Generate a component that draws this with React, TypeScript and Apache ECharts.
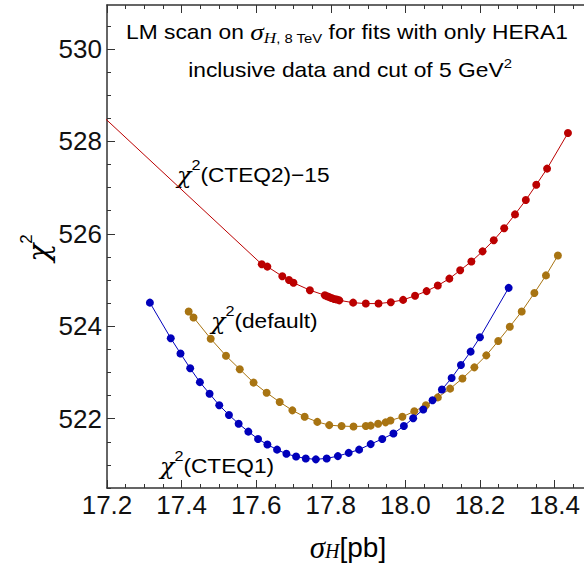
import React, { useEffect, useRef } from "react";
import * as echarts from "echarts";

// ---- data ----
const cteq1X = [17.315, 17.371, 17.397, 17.423, 17.449, 17.475, 17.501, 17.527, 17.553, 17.579, 17.605, 17.630, 17.656, 17.681, 17.707, 17.733, 17.760, 17.789, 17.819, 17.848, 17.876, 17.907, 17.938, 17.968, 17.996, 18.021, 18.048, 18.073, 18.098, 18.124, 18.149, 18.175, 18.200, 18.277];
const cteq1Y = [524.51, 523.74, 523.41, 523.09, 522.79, 522.54, 522.29, 522.08, 521.89, 521.72, 521.56, 521.44, 521.33, 521.24, 521.18, 521.14, 521.12, 521.14, 521.19, 521.26, 521.33, 521.45, 521.56, 521.68, 521.84, 522.01, 522.20, 522.40, 522.63, 522.88, 523.16, 523.45, 523.76, 524.83];

const defaultX = [17.419, 17.432, 17.478, 17.519, 17.556, 17.593, 17.628, 17.663, 17.697, 17.730, 17.764, 17.796, 17.829, 17.861, 17.894, 17.907, 17.927, 17.947, 17.960, 17.992, 18.024, 18.055, 18.087, 18.120, 18.153, 18.185, 18.217, 18.249, 18.280, 18.312, 18.346, 18.377, 18.409];
const defaultY = [524.32, 524.19, 523.73, 523.36, 523.07, 522.78, 522.56, 522.36, 522.18, 522.04, 521.93, 521.86, 521.84, 521.83, 521.84, 521.85, 521.89, 521.92, 521.96, 522.04, 522.16, 522.29, 522.46, 522.65, 522.87, 523.11, 523.37, 523.68, 523.99, 524.32, 524.72, 525.10, 525.53];

const cteq2X = [17.0, 17.615, 17.630, 17.670, 17.688, 17.700, 17.744, 17.784, 17.790, 17.796, 17.802, 17.809, 17.816, 17.823, 17.860, 17.894, 17.928, 17.961, 17.994, 18.026, 18.057, 18.087, 18.118, 18.147, 18.177, 18.207, 18.237, 18.265, 18.294, 18.323, 18.351, 18.380, 18.436];
const cteq2Y = [529.96, 525.34, 525.29, 525.08, 525.00, 524.94, 524.78, 524.67, 524.65, 524.63, 524.61, 524.59, 524.58, 524.56, 524.51, 524.49, 524.49, 524.52, 524.57, 524.66, 524.76, 524.88, 525.03, 525.21, 525.40, 525.62, 525.86, 526.12, 526.42, 526.73, 527.06, 527.41, 528.18];

const xMajorTicks = [17.2, 17.4, 17.6, 17.8, 18.0, 18.2, 18.4];
const xMinorTicks = [17.25, 17.3, 17.35, 17.45, 17.5, 17.55, 17.65, 17.7, 17.75, 17.85, 17.9, 17.95, 18.05, 18.1, 18.15, 18.25, 18.3, 18.35, 18.45];
const yMajorTicks = [522, 524, 526, 528, 530];
const yMinorTicks = [520.5, 521, 521.5, 522.5, 523, 523.5, 524.5, 525, 525.5, 526.5, 527, 527.5, 528.5, 529, 529.5, 530.5];

const X_MIN = 17.2;
const X_MAX = 18.479;
const Y_MIN = 520.5;
const Y_MAX = 530.95;

const RED = "#bb0000";
const GOLD = "#a87412";
const BLUE = "#0000bb";
const AXIS = "#333333";
const SANS = "Liberation Sans, Arial, sans-serif";
const SERIF = "Liberation Serif, Times New Roman, serif";
const GREEK = "DejaVu Serif, Liberation Serif, serif";

const zip = (xs: number[], ys: number[]) => xs.map((x, i) => [x, ys[i]]);

function xAxisDef(position: string, ticks: number[], len: number, labels: boolean, line: boolean) {
  return {
    type: "value",
    position,
    min: X_MIN,
    max: X_MAX,
    axisLine: { show: line, onZero: false, lineStyle: { color: AXIS, width: 1.5 } },
    axisTick: { show: true, inside: true, length: len, customValues: ticks, lineStyle: { color: AXIS, width: 1 } },
    axisLabel: labels
      ? { show: true, customValues: ticks, formatter: (v: number) => v.toFixed(1), fontSize: 26, fontFamily: SANS, color: "#111", margin: 4 }
      : { show: false },
    splitLine: { show: false },
  };
}

function yAxisDef(ticks: number[], len: number, labels: boolean, line: boolean) {
  return {
    type: "value",
    position: "left",
    min: Y_MIN,
    max: Y_MAX,
    axisLine: { show: line, onZero: false, lineStyle: { color: AXIS, width: 1.5 } },
    axisTick: { show: true, inside: true, length: len, customValues: ticks, lineStyle: { color: AXIS, width: 1 } },
    axisLabel: labels
      ? { show: true, customValues: ticks, formatter: (v: number) => String(Math.round(v)), fontSize: 26, fontFamily: SANS, color: "#111", margin: 5 }
      : { show: false },
    splitLine: { show: false },
  };
}

function lineSeries(name: string, data: number[][], color: string) {
  return {
    name,
    type: "line",
    data,
    xAxisIndex: 0,
    yAxisIndex: 0,
    symbol: "circle",
    symbolSize: 8,
    showSymbol: true,
    showAllSymbol: true,
    clip: true,
    lineStyle: { color, width: 1 },
    itemStyle: { color },
  };
}

function curveLabel(x: number, y: number, name: string) {
  return {
    type: "text",
    x,
    y,
    scaleX: 1.08,
    style: {
      text: `{c|χ}{s|2}{t|${name}}`,
      align: "left",
      verticalAlign: "middle",
      rich: {
        c: { fontFamily: GREEK, fontStyle: "italic", fontSize: 22, fill: "#000", lineHeight: 36 },
        s: { fontFamily: SANS, fontSize: 15, fill: "#000", verticalAlign: "top", lineHeight: 14 },
        t: { fontFamily: SANS, fontSize: 21, fill: "#000", lineHeight: 36 },
      },
    },
  };
}

export default function App() {
  const ref = useRef<HTMLDivElement>(null);
  useEffect(() => {
    if (!ref.current) return;
    const chart = echarts.init(ref.current, null, { renderer: "svg" });
    const option: any = {
      animation: false,
      grid: { left: 107, right: 0, top: 5, bottom: 78, containLabel: false, outerBoundsMode: "none" },
      xAxis: [
        xAxisDef("bottom", xMajorTicks, 8, true, true),
        xAxisDef("bottom", xMinorTicks, 4, false, false),
        xAxisDef("top", xMajorTicks, 8, false, true),
        xAxisDef("top", xMinorTicks, 4, false, false),
      ],
      yAxis: [yAxisDef(yMajorTicks, 8, true, true), yAxisDef(yMinorTicks, 4, false, false)],
      series: [
        lineSeries("CTEQ2-15", zip(cteq2X, cteq2Y), RED),
        lineSeries("default", zip(defaultX, defaultY), GOLD),
        lineSeries("CTEQ1", zip(cteq1X, cteq1Y), BLUE),
      ],
      graphic: [
        {
          type: "text",
          x: 347,
          y: 32,
          scaleX: 1.14,
          style: {
            text: "{a|LM scan on }{g|σ}{hi|H}{h|, 8 TeV}{a| for fits with only HERA1}",
            align: "center",
            verticalAlign: "middle",
            rich: {
              a: { fontFamily: SANS, fontSize: 20, fill: "#000", lineHeight: 26 },
              g: { fontFamily: SERIF, fontStyle: "italic", fontSize: 24, fill: "#000", lineHeight: 26 },
              hi: { fontFamily: SERIF, fontStyle: "italic", fontSize: 15, fill: "#000", verticalAlign: "bottom", lineHeight: 14 },
              h: { fontFamily: SANS, fontSize: 13, fill: "#000", verticalAlign: "bottom", lineHeight: 14 },
            },
          },
        },
        {
          type: "text",
          x: 350,
          y: 70,
          scaleX: 1.14,
          style: {
            text: "{a|inclusive data and cut of 5 GeV}{s|2}",
            align: "center",
            verticalAlign: "middle",
            rich: {
              a: { fontFamily: SANS, fontSize: 20, fill: "#000", lineHeight: 26 },
              s: { fontFamily: SANS, fontSize: 13, fill: "#000", verticalAlign: "top", lineHeight: 12 },
            },
          },
        },
        curveLabel(177, 175, "(CTEQ2)−15"),
        curveLabel(211, 321, "(default)"),
        curveLabel(160, 466, "(CTEQ1)"),
        {
          type: "text",
          x: 348,
          y: 547,
          style: {
            text: "{g|σ}{h|H}{t|[pb]}",
            align: "center",
            verticalAlign: "middle",
            rich: {
              g: { fontFamily: SERIF, fontStyle: "italic", fontSize: 31, fill: "#000", lineHeight: 28 },
              h: { fontFamily: SERIF, fontStyle: "italic", fontSize: 20, fill: "#000", verticalAlign: "bottom", lineHeight: 16 },
              t: { fontFamily: SANS, fontSize: 28, fill: "#000", lineHeight: 28 },
            },
          },
        },
        {
          type: "text",
          x: 38,
          y: 248,
          rotation: Math.PI / 2,
          style: {
            text: "{g|χ}{s|2}",
            align: "center",
            verticalAlign: "middle",
            rich: {
              g: { fontFamily: GREEK, fontStyle: "italic", fontSize: 30, fill: "#000", lineHeight: 40 },
              s: { fontFamily: SANS, fontSize: 17, fill: "#000", verticalAlign: "top", lineHeight: 16 },
            },
          },
        },
      ],
    };
    chart.setOption(option);
    return () => chart.dispose();
  }, []);
  return (
    <div
      ref={ref}
      style={{ position: "absolute", left: 0, top: 0, width: 584, height: 566, background: "#fff" }}
    />
  );
}
